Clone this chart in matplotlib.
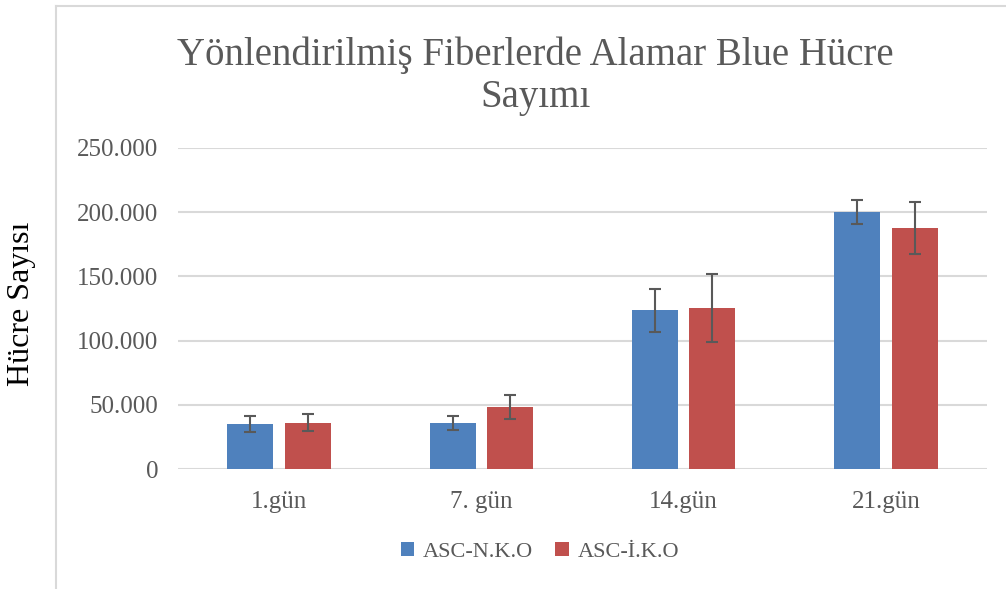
import numpy as np
import matplotlib.pyplot as plt
from matplotlib.ticker import FuncFormatter

days = ["1.gün", "7. gün", "14.gün", "21.gün"]
series_names = ["ASC-N.K.O", "ASC-İ.K.O"]
nko_vals = [35000, 36000, 123500, 200000]
nko_err = [6500, 5500, 16500, 9200]
iko_vals = [36000, 48300, 125500, 187700]
iko_err = [6500, 9500, 26600, 20000]

blue = "#4F81BD"
red = "#C0504D"
grey = "#595959"
serif = "Liberation Serif"

fig = plt.figure(figsize=(10.06, 5.89), dpi=100)
ax = fig.add_axes([178 / 1006, 1 - 469 / 589, (987 - 178) / 1006, (469 - 148) / 589])

x = np.arange(len(days))
w = 0.227
off = 0.142
ekw = dict(ecolor=grey, elinewidth=1.5, capsize=4.5, capthick=1.5)
ax.bar(x - off, nko_vals, w, color=blue, yerr=nko_err, error_kw=ekw, label=series_names[0])
ax.bar(x + off, iko_vals, w, color=red, yerr=iko_err, error_kw=ekw, label=series_names[1])

ax.set_xlim(-0.5, len(days) - 0.5)
ax.set_ylim(0, 250000)
ax.set_yticks(np.arange(0, 250001, 50000))
ax.yaxis.set_major_formatter(FuncFormatter(lambda v, p: f"{int(v):,}".replace(",", ".")))
ax.set_xticks(x)
ax.set_xticklabels(days)
ax.grid(axis="y", color="#d9d9d9", linewidth=1.5)
ax.set_axisbelow(True)
for s in ax.spines.values():
    s.set_visible(False)
ax.tick_params(length=0, labelsize=18, labelcolor=grey, pad=14)
for t in ax.get_xticklabels() + ax.get_yticklabels():
    t.set_fontfamily(serif)
ax.tick_params(axis="x", pad=16)

fig.text(0.532, 1 - 55 / 589, "Yönlendirilmiş Fiberlerde Alamar Blue Hücre", ha="center", va="center",
         fontsize=28, color=grey, family=serif)
fig.text(0.532, 1 - 97 / 589, "Sayımı", ha="center", va="center", fontsize=28, color=grey, family=serif)
fig.text(22 / 1006, 1 - 304 / 589, "Hücre Sayısı", rotation=90, ha="center", va="center",
         fontsize=23, color="black", family=serif)

# chart frame (left and top edge visible)
fig.add_artist(plt.Line2D([55.5 / 1006, 55.5 / 1006], [0, 1 - 6 / 589], color="#d9d9d9", lw=1.5,
                          transform=fig.transFigure))
fig.add_artist(plt.Line2D([55.5 / 1006, 1], [1 - 6 / 589, 1 - 6 / 589], color="#d9d9d9", lw=1.5,
                          transform=fig.transFigure))

leg = fig.legend(loc="center", bbox_to_anchor=(540 / 1006, 1 - 552 / 589), ncol=2, frameon=False,
                 prop={"family": serif, "size": 16}, handlelength=0.6, handleheight=0.6,
                 handletextpad=0.4, columnspacing=1.0)
for t in leg.get_texts():
    t.set_color(grey)

fig.savefig("out.png", dpi=100)
